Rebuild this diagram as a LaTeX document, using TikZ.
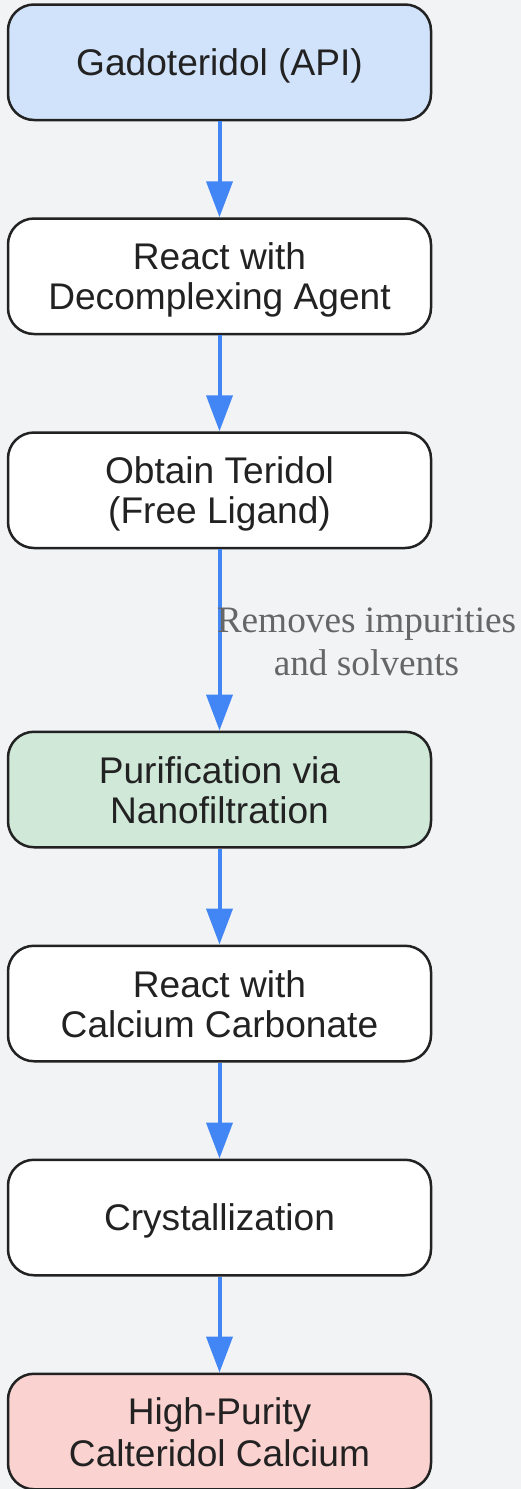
\documentclass[tikz,border=0pt]{standalone}
\usepackage{fontspec}
\setmainfont{Liberation Sans}
\newfontfamily\labelfont{Liberation Serif}
\usetikzlibrary{arrows.meta}
\definecolor{bgc}{RGB}{242,243,245}
\definecolor{edgec}{RGB}{34,34,34}
\definecolor{txtc}{RGB}{34,34,34}
\definecolor{flowc}{RGB}{66,133,244}
\definecolor{bluef}{RGB}{209,227,250}
\definecolor{greenf}{RGB}{207,232,216}
\definecolor{redf}{RGB}{250,210,207}
\definecolor{lblc}{RGB}{102,102,102}
\newcommand{\bstrut}{\rule[-6.2pt]{0pt}{40.2pt}}
\newcommand{\lstrut}{\rule[-8pt]{0pt}{38pt}}
\begin{document}
\begin{tikzpicture}[x=1pt,y=-1pt,
  stepbox/.style={draw=edgec, line width=2.5pt, rounded corners=26pt,
    minimum width=423pt, minimum height=115.5pt, inner sep=0pt,
    align=center, text=txtc,
    font=\fontsize{37.1}{40.7}\selectfont},
  flow/.style={draw=flowc, line width=4pt,
    -{Triangle[length=36pt,width=26pt]}},
  lbl/.style={text=lblc, align=center, inner sep=0pt,
    font=\labelfont\fontsize{37.3}{43}\selectfont}]
\fill[bgc] (0,0) rectangle (521,1489);
\useasboundingbox (0,0) rectangle (521,1489);
\node[stepbox, fill=bluef] (n1) at (219.5,62.25) {Gadoteridol (API)\bstrut};
\node[stepbox, fill=white] (n2) at (219.5,276.25) {React with\bstrut\\Decomplexing Agent\bstrut};
\node[stepbox, fill=white] (n3) at (219.5,490.25) {Obtain Teridol\bstrut\\(Free Ligand)\bstrut};
\node[stepbox, fill=greenf] (n4) at (219.5,789.5) {Purification via\bstrut\\Nanofiltration\bstrut};
\node[stepbox, fill=white] (n5) at (219.5,1003.5) {React with\bstrut\\Calcium Carbonate\bstrut};
\node[stepbox, fill=white] (n6) at (219.5,1217.5) {Crystallization\bstrut};
\node[stepbox, fill=redf] (n7) at (219.5,1431.5) {High-Purity\bstrut\\Calteridol Calcium\bstrut};
\draw[flow] (n1.south) -- (n2.north);
\draw[flow] (n2.south) -- (n3.north);
\draw[flow] (n3.south) -- (n4.north);
\draw[flow] (n4.south) -- (n5.north);
\draw[flow] (n5.south) -- (n6.north);
\draw[flow] (n6.south) -- (n7.north);
\node[lbl] (l1) at (366.5,643) {Removes impurities\lstrut\\and solvents\lstrut};
\end{tikzpicture}
\end{document}
